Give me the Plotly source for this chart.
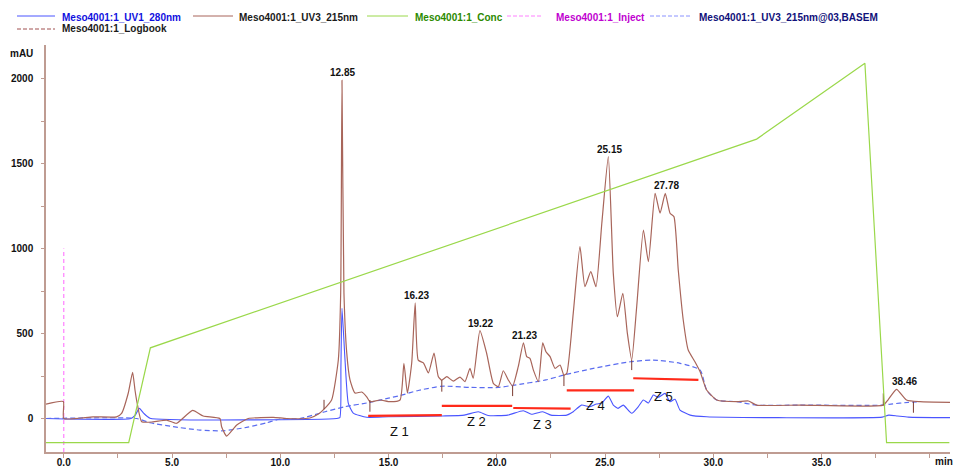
import plotly.graph_objects as go

# ---------------- data ----------------
# UV3 215 nm trace (mAU) vs time (min)
uv3_t = [-0.82, -0.02, 0.0, 1.35, 2.44, 2.67, 2.98, 3.18, 3.29, 3.39, 3.60, 4.12, 4.75, 5.21, 5.95, 6.44,
         7.21, 7.29, 7.52, 7.99, 8.52, 9.68, 10.30, 11.37, 11.76, 12.02, 12.37, 12.68, 12.79, 12.85, 12.94,
         13.07, 13.22, 13.45, 13.76, 13.99, 14.14, 14.60, 15.07, 15.53, 15.71, 15.87, 16.07, 16.23, 16.37,
         16.61, 16.84, 17.10, 17.30, 17.46, 17.69, 17.99, 18.30, 18.53, 18.76, 18.91, 19.22, 19.53, 19.84,
         20.07, 20.30, 20.53, 20.73, 20.99, 21.23, 21.38, 21.53, 21.69, 21.92, 22.12, 22.27, 22.46, 22.69,
         22.92, 23.10, 23.23, 23.53, 23.84, 24.07, 24.34, 24.58, 24.85, 25.15, 25.38, 25.57, 25.82, 26.03,
         26.23, 26.46, 26.77, 27.00, 27.31, 27.54, 27.78, 28.00, 28.18, 28.38, 28.61, 28.84, 29.15, 29.39,
         29.69, 30.16, 31.08, 31.62, 32.00, 34.00, 37.85, 38.07, 38.46, 38.92, 39.54, 40.93]
uv3_y = [85, 100, 0, 10, 10, 30, 150, 272, 168, 90, -19, -20, -9, -28, 48, 15,
         0, -48, -103, -38, 0, 7, 0, 3, 26, 55, 109, 344, 740, 1990, 740,
         385, 227, 150, 156, 128, 99, 109, 99, 109, 325, 150, 327, 680, 344,
         327, 268, 385, 246, 226, 246, 220, 244, 217, 295, 237, 517, 384, 207,
         187, 281, 227, 191, 305, 446, 364, 354, 285, 217, 446, 393, 364, 295,
         315, 256, 266, 619, 1011, 776, 864, 776, 1149, 1541, 854, 599, 737, 501,
         344, 658, 1109, 923, 1325, 1208, 1325, 1208, 1188, 874, 580, 403, 334, 275,
         168, 109, 99, 103, 79, 79, 79, 110, 172, 109, 99, 95]

# UV1 280 nm trace
uv1_t = [-0.82, 3.10, 3.30, 3.49, 3.70, 3.98, 12.60, 12.75, 12.80, 12.85, 12.99, 13.14, 13.37, 13.99,
         15.0, 17.5, 18.5, 19.15, 19.6, 20.5, 21.22, 21.6, 22.12, 22.5, 23.23, 23.53, 23.91, 24.30,
         24.60, 24.85, 25.15, 25.38, 25.60, 25.84, 26.23, 26.53, 26.77, 27.00, 27.23, 27.46, 27.77,
         28.00, 28.23, 28.46, 28.93, 29.69, 33.0, 37.8, 38.1, 38.5, 39.0, 40.93]
uv1_y = [0, 0, 20, 60, 30, 2, 0, 5, 300, 648, 344, 91, 32, 7,
         10, 15, 20, 40, 18, 20, 46, 25, 40, 20, 20, 40, 79, 69,
         85, 91, 132, 79, 60, 79, 31, 69, 109, 91, 138, 125, 148,
         99, 113, 50, 20, 10, 5, 8, 20, 15, 8, 5]

# UV3 215nm@03,BASEM baseline
base_t = [-0.82, 3.37, 3.98, 5.06, 6.29, 7.37, 8.45, 9.37, 9.99, 10.9, 12.07, 13.0, 14.14, 15.0, 15.53,
          16.37, 17.46, 18.76, 20.07, 20.73, 22.27, 23.10, 24.46, 26.17, 27.23, 28.46, 29.39, 29.69,
          30.16, 31.08, 32.0, 34.0, 37.85, 38.2, 39.0, 39.54]
base_y = [0, 0, -25, -48, -68, -72, -52, -25, -3, 0, 40, 70, 95, 120, 135,
          165, 190, 183, 183, 195, 227, 256, 295, 334, 344, 325, 285, 168,
          109, 99, 79, 79, 79, 85, 95, 99]

# Conc (%B)
conc_t = [-0.82, 3.0, 4.0, 32.0, 37.0, 38.0, 40.9]
conc_y = [0, 0, 25, 80, 100, 0, 0]

# Inject mark
inject_t = [0.0, 0.0]
inject_y = [-197, 1000]

# Zone baselines
zone_names = ["Z 1", "Z 2", "Z 3", "Z 4", "Z 5"]
zone_start = [14.06, 17.46, 20.76, 23.23, 26.30]
zone_end = [17.46, 20.71, 23.41, 26.34, 29.31]
zone_lvl_start = [15, 75, 62, 166, 237]
zone_lvl_end = [20, 75, 58, 166, 227]
zone_lab_t = [15.50, 19.07, 22.12, 24.54, 27.72]
zone_lab_y = [-78, -20, -38, 79, 132]

# Integration marks
mark_t = [12.02, 14.14, 17.46, 20.73, 23.10, 26.23, 37.85, 39.24]
mark_y0 = [55, 40, 158, 132, 191, 285, 79, 34]
mark_y1 = [110, 109, 226, 191, 256, 344, 148, 99]

# Peak labels
peak_t = [12.85, 16.23, 19.22, 21.23, 25.15, 27.78, 38.46]
peak_h = [1990, 680, 517, 446, 1541, 1325, 172]

x_ticks = [0, 5, 10, 15, 20, 25, 30, 35]
x_ticktext = ["0.0", "5.0", "10.0", "15.0", "20.0", "25.0", "30.0", "35.0"]
y_ticks = [0, 500, 1000, 1500, 2000]

legend_names = ["Meso4001:1_UV1_280nm", "Meso4001:1_UV3_215nm", "Meso4001:1_Conc",
                "Meso4001:1_Inject", "Meso4001:1_UV3_215nm@03,BASEM", "Meso4001:1_Logbook"]

# ---------------- style ----------------
C_UV3 = "#a8655a"
C_UV1 = "#4a55ff"
C_BASE = "#5a6cf0"
C_CONC = "#9ad84a"
C_INJ = "#ff80ff"
C_RED = "#ff2a1a"
C_AXIS = "#bf9c92"
FONT = "Liberation Sans"

fig = go.Figure()

fig.add_trace(go.Scatter(x=conc_t, y=conc_y, mode="lines", yaxis="y2",
                         line=dict(color=C_CONC, width=1.2), showlegend=False, hoverinfo="skip"))
fig.add_trace(go.Scatter(x=inject_t, y=inject_y, mode="lines",
                         line=dict(color=C_INJ, width=1.2, dash="4px,3px"), showlegend=False, hoverinfo="skip"))
fig.add_trace(go.Scatter(x=uv1_t, y=uv1_y, mode="lines",
                         line=dict(color=C_UV1, width=1.1, shape="spline", smoothing=0.5),
                         showlegend=False, hoverinfo="skip"))
fig.add_trace(go.Scatter(x=base_t, y=base_y, mode="lines",
                         line=dict(color=C_BASE, width=1.2, dash="5px,3px", shape="spline", smoothing=0.6),
                         showlegend=False, hoverinfo="skip"))
fig.add_trace(go.Scatter(x=uv3_t, y=uv3_y, mode="lines",
                         line=dict(color=C_UV3, width=1.2, shape="spline", smoothing=0.5),
                         showlegend=False, hoverinfo="skip"))

# integration marks
mx, my = [], []
for t, a, b in zip(mark_t, mark_y0, mark_y1):
    mx += [t, t, None]
    my += [a, b, None]
fig.add_trace(go.Scatter(x=mx, y=my, mode="lines", line=dict(color="#7a3a30", width=1),
                         showlegend=False, hoverinfo="skip"))

# zone baselines
for s, e, a, b in zip(zone_start, zone_end, zone_lvl_start, zone_lvl_end):
    fig.add_trace(go.Scatter(x=[s, e], y=[a, b], mode="lines", line=dict(color=C_RED, width=2.2),
                             showlegend=False, hoverinfo="skip"))

annotations = []
for name, t, y in zip(zone_names, zone_lab_t, zone_lab_y):
    annotations.append(dict(x=t, y=y, text=name, showarrow=False, xref="x", yref="y",
                            xanchor="center", yanchor="middle",
                            font=dict(family=FONT, size=13, color="#111")))
for t, h in zip(peak_t, peak_h):
    xs = 8 if t > 38 else 1
    annotations.append(dict(x=t, y=h, text=f"{t:.2f}", showarrow=False, xref="x", yref="y",
                            xanchor="center", yanchor="bottom", xshift=xs, yshift=0,
                            font=dict(family=FONT, size=10, color="#111", weight="bold")))

# axis captions
annotations.append(dict(x=(21 - 46) / 904, y=(452 - 53) / 407, xref="paper", yref="paper", text="mAU",
                        xanchor="center", yanchor="middle",
                        showarrow=False, font=dict(family=FONT, size=10, color="#111", weight="bold")))
annotations.append(dict(x=(944 - 46) / 904, y=(452 - 461) / 407, xref="paper", yref="paper", text="min",
                        xanchor="center", yanchor="middle",
                        showarrow=False, font=dict(family=FONT, size=10, color="#111", weight="bold")))

# manual legend
leg_line = [(17, 55, 16), (193, 233, 16), (367, 408, 16), (507, 543, 16), (650, 692, 16), (17, 55, 29)]
leg_text = [(60, 17), (237, 17), (413, 17), (554, 17), (697, 17), (60, 29)]
leg_lcol = [C_UV1, C_UV3, C_CONC, C_INJ, "#8a92ff", "#a05050"]
leg_dash = ["solid", "solid", "solid", "4px,2px", "4px,2px", "4px,2px"]
leg_tcol = ["#1010e0", "#1a1a1a", "#2c8a00", "#c000d0", "#10107a", "#1a1a1a"]
shapes = []
for (x0, x1, yy), col, d in zip(leg_line, leg_lcol, leg_dash):
    shapes.append(dict(type="line", xref="paper", yref="paper",
                       x0=(x0 - 46) / 904, x1=(x1 - 46) / 904, y0=(452 - yy) / 407, y1=(452 - yy) / 407,
                       line=dict(color=col, width=1, dash=d)))
for name, (tx, ty), col in zip(legend_names, leg_text, leg_tcol):
    annotations.append(dict(x=(tx - 46) / 904, y=(452 - ty) / 407, xref="paper", yref="paper",
                            text=name, showarrow=False, xanchor="left", yanchor="middle",
                            font=dict(family=FONT, size=10, color=col, weight="bold")))

fig.update_layout(
    width=956, height=467,
    margin=dict(l=46, r=6, t=45, b=15, autoexpand=False),
    paper_bgcolor="white", plot_bgcolor="white",
    showlegend=False,
    font=dict(family=FONT, size=10, color="#111"),
    xaxis=dict(range=[-0.82, 40.93], tickvals=x_ticks, ticktext=x_ticktext, showgrid=False, zeroline=False,
               automargin=False,
               showline=True, linecolor=C_AXIS, linewidth=1.5, ticks="outside", ticklen=4, tickcolor=C_AXIS,
               minor=dict(dtick=2.5, tick0=0, ticks="outside", ticklen=4, tickcolor=C_AXIS, showgrid=False),
               ticklabelstandoff=-4,
               tickfont=dict(family=FONT, size=10, color="#111", weight="bold")),
    yaxis=dict(range=[-197, 2198], tickvals=y_ticks, showgrid=False, zeroline=False,
               automargin=False,
               showline=True, linecolor=C_AXIS, linewidth=1.5, ticks="outside", ticklen=3, tickcolor=C_AXIS,
               minor=dict(dtick=250, tick0=0, ticks="outside", ticklen=3, tickcolor=C_AXIS, showgrid=False),
               ticklabelstandoff=6,
               tickfont=dict(family=FONT, size=10, color="#111", weight="bold")),
    yaxis2=dict(range=[-2.45, 104.8], overlaying="y", visible=False),
    annotations=annotations,
    shapes=shapes,
)

fig.write_html("out.html", config={"displayModeBar": False})
